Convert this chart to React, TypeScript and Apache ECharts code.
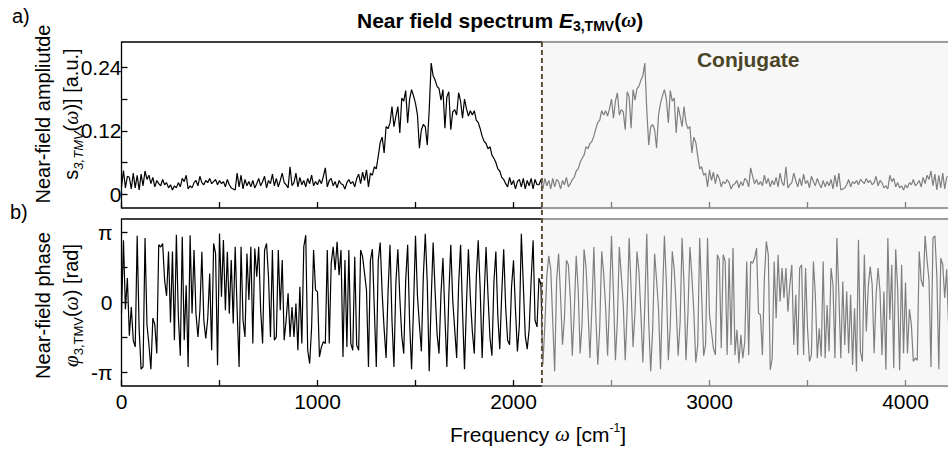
import React, { useEffect, useRef } from 'react';
import * as echarts from 'echarts';

// ---------- data ----------
const FREQ_STEP = 10; // cm^-1 between samples
const X_MAX = 4250;
const CONJ_START = 2145;
const X_TICKS = [0, 500, 1000, 1500, 2000, 2500, 3000, 3500, 4000];
const X_LABELS = [0, 1000, 2000, 3000, 4000];
const AMP_MIN = -0.026;
const AMP_MAX = 0.288;
const AMP_TICKS = [0, 0.06, 0.12, 0.18, 0.24];
const AMP_LABELS = [0, 0.12, 0.24];
const PI = Math.PI;
const PHASE_MIN = -3.76;
const PHASE_MAX = 3.76;
const PHASE_TICKS = [-PI, -PI / 2, 0, PI / 2, PI];
const PHASE_LABELS = [-PI, 0, PI];

// near-field amplitude, 0 .. 2120 cm^-1
const AMP_SPECTRUM = [
  0.014, 0.045, 0.012, 0.034, 0.032, 0.010, 0.040, 0.012, 0.036, 0.008,
  0.038, 0.016, 0.044, 0.028, 0.036, 0.020, 0.032, 0.014, 0.026, 0.020,
  0.016, 0.028, 0.018, 0.022, 0.012, 0.018, 0.008, 0.016, 0.012, 0.022,
  0.014, 0.030, 0.024, 0.036, 0.010, 0.016, 0.012, 0.022, 0.026, 0.016,
  0.034, 0.022, 0.018, 0.026, 0.022, 0.030, 0.020, 0.024, 0.028, 0.018,
  0.026, 0.020, 0.024, 0.014, 0.028, 0.018, 0.012, 0.010, 0.008, 0.040,
  0.014, 0.036, 0.010, 0.028, 0.016, 0.024, 0.014, 0.026, 0.012, 0.020,
  0.030, 0.016, 0.024, 0.034, 0.012, 0.026, 0.020, 0.038, 0.016, 0.030,
  0.014, 0.026, 0.040, 0.022, 0.018, 0.012, 0.052, 0.016, 0.022, 0.040,
  0.014, 0.032, 0.018, 0.026, 0.014, 0.030, 0.020, 0.036, 0.016, 0.024,
  0.018, 0.028, 0.020, 0.034, 0.050, 0.014, 0.026, 0.030, 0.016, 0.024,
  0.012, 0.026, 0.020, 0.018, 0.010, 0.022, 0.028, 0.020, 0.024, 0.014,
  0.030, 0.038, 0.020, 0.042, 0.026, 0.046, 0.014, 0.040, 0.036, 0.052,
  0.048, 0.072, 0.098, 0.108, 0.078, 0.128, 0.124, 0.135, 0.166, 0.128,
  0.148, 0.166, 0.116, 0.182, 0.176, 0.196, 0.135, 0.180, 0.198, 0.186,
  0.172, 0.150, 0.087, 0.122, 0.132, 0.128, 0.093, 0.160, 0.248, 0.224,
  0.216, 0.204, 0.200, 0.178, 0.198, 0.125, 0.184, 0.194, 0.122, 0.156,
  0.160, 0.150, 0.192, 0.176, 0.144, 0.180, 0.162, 0.148, 0.158, 0.150,
  0.158, 0.140, 0.136, 0.124, 0.110, 0.100, 0.096, 0.086, 0.090, 0.074,
  0.068, 0.060, 0.048, 0.044, 0.032, 0.028, 0.020, 0.014, 0.032, 0.018,
  0.026, 0.010, 0.024, 0.028, 0.014, 0.030, 0.010, 0.026, 0.016, 0.030,
  0.010, 0.028, 0.018,
];

// conjugate half, 2130 .. 4240 cm^-1
const AMP_CONJUGATE = [
  0.018, 0.028, 0.010, 0.030, 0.016, 0.026, 0.010, 0.030, 0.014, 0.028,
  0.024, 0.010, 0.026, 0.018, 0.032, 0.014, 0.020, 0.028, 0.032, 0.044,
  0.048, 0.060, 0.068, 0.074, 0.090, 0.086, 0.096, 0.100, 0.110, 0.124,
  0.136, 0.140, 0.158, 0.150, 0.158, 0.148, 0.162, 0.180, 0.144, 0.176,
  0.192, 0.150, 0.160, 0.156, 0.122, 0.194, 0.184, 0.125, 0.198, 0.178,
  0.200, 0.204, 0.216, 0.224, 0.248, 0.160, 0.093, 0.128, 0.132, 0.122,
  0.087, 0.150, 0.172, 0.186, 0.198, 0.180, 0.135, 0.196, 0.176, 0.182,
  0.116, 0.166, 0.148, 0.128, 0.166, 0.135, 0.124, 0.128, 0.078, 0.108,
  0.098, 0.072, 0.048, 0.052, 0.036, 0.040, 0.014, 0.046, 0.026, 0.042,
  0.020, 0.038, 0.030, 0.014, 0.024, 0.020, 0.028, 0.022, 0.010, 0.018,
  0.020, 0.026, 0.012, 0.024, 0.016, 0.030, 0.026, 0.014, 0.050, 0.034,
  0.020, 0.028, 0.018, 0.024, 0.016, 0.036, 0.020, 0.030, 0.014, 0.026,
  0.018, 0.032, 0.014, 0.040, 0.022, 0.016, 0.052, 0.012, 0.018, 0.022,
  0.040, 0.026, 0.014, 0.030, 0.016, 0.038, 0.020, 0.026, 0.012, 0.034,
  0.024, 0.016, 0.030, 0.020, 0.012, 0.026, 0.014, 0.024, 0.016, 0.028,
  0.010, 0.036, 0.014, 0.040, 0.008, 0.010, 0.012, 0.018, 0.028, 0.014,
  0.024, 0.020, 0.026, 0.018, 0.028, 0.024, 0.020, 0.030, 0.022, 0.026,
  0.018, 0.022, 0.034, 0.016, 0.026, 0.022, 0.012, 0.016, 0.010, 0.036,
  0.024, 0.030, 0.014, 0.022, 0.012, 0.016, 0.008, 0.018, 0.012, 0.022,
  0.018, 0.028, 0.016, 0.020, 0.026, 0.014, 0.032, 0.020, 0.036, 0.028,
  0.044, 0.016, 0.038, 0.008, 0.036, 0.012, 0.040, 0.010, 0.032, 0.034,
  0.012, 0.045,
];

// near-field phase (rad), 0 .. 2120 cm^-1
const PHASE_SPECTRUM = [
  -0.5, 2.8, -0.3, 1.1, -1.5, -0.2, -1.7, -2.0, 3.0, -1.2,
  -3.0, -2.9, 2.9, -1.0, -1.9, -3.0, -0.7, -1.0, -2.3, 2.6,
  2.5, 2.65, 1.0, 0.3, 2.3, -0.9, 2.3, -1.7, 3.05, -0.6,
  -2.4, 2.96, -1.70, 0.78, -2.90, 3.03, -0.50, 2.36, -0.50, -1.55,
  -0.35, 2.28, -0.80, -1.62, -0.72, 1.31, -2.15, 2.66, 2.21, -2.82,
  3.11, 0.26, 2.81, -0.35, 2.28, -0.50, 1.91, -0.95, 2.51, -0.35,
  -2.90, 2.51, -0.80, -1.55, 2.21, 0.11, 2.51, -1.85, 2.43, 1.16,
  2.51, -0.35, -1.85, 2.36, 2.66, 1.16, -1.55, 2.36, -1.70, -1.55,
  2.36, -0.35, 1.91, -1.70, -0.80, 0.41, -1.55, -0.20, -1.55, -0.05,
  -2.15, 0.71, -1.85, 2.51, 3.03, -2.15, -2.75, -1.10, 2.36, 0.56,
  0.48, -2.45, -2.00, -1.77, -1.85, 2.36, -1.85, 1.76, 2.51, 1.46,
  2.73, 1.23, 2.36, -2.45, 1.91, -2.00, 2.36, -1.85, -2.15, 2.06,
  -1.92, -2.15, 2.36, 2.06, 1.31, 0.56, -2.90, 1.91, 2.4, -0.3,
  -2.9, 1.9, 2.7, 0.4, -1.2, -2.5, 0.5, 2.6, -0.8, -2.9,
  0.9, 2.4, 0.2, -1.5, -2.3, 1.0, 2.6, -0.9, -3.0, -0.2,
  3.0, 0.3, -1.0, -2.2, 1.2, 3.1, 0.9, -3.1, 0.1, 2.7,
  0.5, -1.4, -2.3, 0.4, 2.0, -0.6, -2.9, 0.3, 2.6, 0.1,
  -1.2, -2.5, 0.8, 2.6, -0.4, -3.0, -0.1, 2.4, 0.2, -1.3,
  -2.3, 1.1, 2.8, 0.6, -2.5, 0.2, 2.5, 0.3, -1.6, -2.4,
  0.9, 2.3, -0.6, -2.1, 0.4, 2.4, -0.2, -1.7, -1.9, 0.7,
  1.9, -0.3, -2.2, -1.0, 3.1, 0.8, -1.5, -2.1, -1.2, 1.0,
  2.8, -0.8, -1.1,
];

// conjugate phase (rad), 2130 .. 4240 cm^-1
const PHASE_CONJUGATE = [
  1.1, 0.8, -2.8, -1.0, 1.2, 2.1, 1.5, -0.8, -3.1, 1.0,
  2.2, 0.3, -1.9, -0.7, 1.9, 1.7, 0.2, -2.4, -0.4, 2.1,
  0.6, -2.3, -0.9, 2.4, 1.6, -0.3, -2.5, -0.2, 2.5, -0.6,
  -2.8, -1.1, 2.3, 1.3, -0.2, -2.4, 0.1, 3.0, 0.4, -2.6,
  -0.8, 2.5, 1.2, -0.1, -2.6, -0.3, 2.9, 0.6, -2.0, -0.4,
  2.3, 1.4, -0.5, -2.7, -0.1, 3.1, -0.9, -3.1, -1.2, 2.2,
  1.0, -0.3, -3.0, 0.2, 3.0, 0.9, -2.6, -1.0, 2.3, 1.5,
  -0.2, -2.4, -0.9, 2.9, 0.8, -2.6, -0.5, 2.5, 1.2, -0.4,
  -2.7, -1.9, 2.9, 0.3, -2.4, -1.91, 2.90, -0.56, -1.31, -2.06,
  -2.36, 2.15, 1.92, -2.06, 2.15, 1.85, -2.36, 2.00, -1.91, 2.45,
  -2.36, -1.23, -2.73, -1.46, -2.51, -1.76, 1.85, -2.36, 1.85, 1.77,
  2.00, 2.45, -0.48, -0.56, -2.36, 1.10, 2.75, 2.15, -3.03, -2.51,
  1.85, -0.71, 2.15, 0.05, 1.55, 0.20, 1.55, -0.41, 0.80, 1.70,
  -1.91, 0.35, -2.36, 1.55, 1.70, -2.36, 1.55, -1.16, -2.66, -2.36,
  1.85, 0.35, -2.51, -1.16, -2.43, 1.85, -2.51, -0.11, -2.21, 1.55,
  0.80, -2.51, 2.90, 0.35, -2.51, 0.95, -1.91, 0.50, -2.28, 0.35,
  -2.81, -0.26, -3.11, 2.82, -2.21, -2.66, 2.15, -1.31, 0.72, 1.62,
  0.80, -2.28, 0.35, 1.55, 0.50, -2.36, 0.50, -3.03, 2.90, -0.78,
  1.70, -2.96, 2.4, 0.6, -3.05, 1.7, -2.3, 0.9, -2.3, -0.3,
  -1.0, -2.65, -2.5, -2.6, 2.3, 1.0, 0.7, 3.0, 1.9, 1.0,
  -2.9, 2.9, 3.0, 1.2, -3.0, 2.0, 1.7, 0.2, 1.5, -1.1,
  0.3, -2.8,
];

// ---------- styling ----------
const FONT = '"Liberation Sans", Arial, Helvetica, sans-serif';
const SERIF = '"Liberation Serif", "Times New Roman", serif';
const FS = 20; // axis names
const FS_TICK = 21; // tick labels
const FS_TITLE = 21;

const toPairs = (vals: number[]) => vals.map((v, i) => [i * FREQ_STEP, v]);

function buildOption() {
  const ampData = toPairs([...AMP_SPECTRUM, ...AMP_CONJUGATE]);
  const phaseData = toPairs([...PHASE_SPECTRUM, ...PHASE_CONJUGATE]);

  const tick = {
    show: true,
    inside: true,
    length: 6,
    lineStyle: { color: '#000', width: 1.3 },
  };
  const noLine = { show: false, onZero: false };
  const gridCommon = {
    left: 121.5,
    width: 833,
    show: true,
    borderColor: '#000',
    borderWidth: 1.3,
    backgroundColor: 'transparent',
    containLabel: false,
    outerBoundsMode: 'none',
  };
  const richMain = {
    t: { fontSize: FS, fontFamily: FONT, color: '#000', lineHeight: 28 },
    w: { fontSize: FS, fontFamily: SERIF, fontStyle: 'italic', color: '#000', lineHeight: 28 },
    p: { fontSize: 21, fontFamily: SERIF, fontStyle: 'italic', color: '#000', lineHeight: 28 },
    si: { fontSize: 13, fontFamily: FONT, fontStyle: 'italic', color: '#000', lineHeight: 12, verticalAlign: 'bottom' },
    sb: { fontSize: 13, fontFamily: FONT, color: '#000', lineHeight: 12, verticalAlign: 'bottom' },
  };
  const richX = {
    t: { fontSize: 21, fontFamily: FONT, color: '#000', lineHeight: 24 },
    w: { fontSize: 21, fontFamily: SERIF, fontStyle: 'italic', color: '#000', lineHeight: 24 },
    sup: { fontSize: 12, fontFamily: FONT, color: '#000', lineHeight: 15, verticalAlign: 'top' },
  };

  return {
    animation: false,
    backgroundColor: '#fff',
    textStyle: { fontFamily: FONT },
    title: {
      text: '{b|Near field spectrum }{e|E}{s|3,TMV}{b|(}{w|ω}{b|)}',
      left: 357,
      top: 7,
      padding: 0,
      textStyle: {
        rich: {
          b: { fontSize: FS_TITLE, fontWeight: 'bold', fontFamily: FONT, color: '#000', lineHeight: 26 },
          e: { fontSize: FS_TITLE, fontWeight: 'bold', fontStyle: 'italic', fontFamily: FONT, color: '#000', lineHeight: 26 },
          s: { fontSize: 14, fontWeight: 'bold', fontFamily: FONT, color: '#000', lineHeight: 12, verticalAlign: 'bottom' },
          w: { fontSize: FS_TITLE, fontWeight: 'bold', fontStyle: 'italic', fontFamily: SERIF, color: '#000', lineHeight: 26 },
        },
      },
    },
    grid: [
      { ...gridCommon, top: 42, height: 166 },
      { ...gridCommon, top: 219, height: 167 },
    ],
    xAxis: [
      {
        type: 'value', gridIndex: 0, min: 0, max: X_MAX,
        axisLine: noLine,
        axisTick: { ...tick, customValues: X_TICKS },
        axisLabel: { show: false },
        splitLine: { show: false },
      },
      {
        type: 'value', gridIndex: 1, min: 0, max: X_MAX,
        axisLine: noLine,
        axisTick: { ...tick, customValues: X_TICKS },
        axisLabel: {
          show: true, customValues: X_LABELS, margin: 5,
          fontSize: FS_TICK, fontFamily: FONT, color: '#000',
          formatter: (v: number) => String(v),
        },
        splitLine: { show: false },
        name: '{t|Frequency }{w|ω}{t| [cm}{sup|-1}{t|]}',
        nameLocation: 'middle',
        nameGap: 36,
        nameMoveOverlap: false,
        nameTextStyle: { rich: richX },
      },
    ],
    yAxis: [
      {
        type: 'value', gridIndex: 0, min: AMP_MIN, max: AMP_MAX,
        axisLine: noLine,
        axisTick: { ...tick, customValues: AMP_TICKS },
        axisLabel: {
          show: true, customValues: AMP_LABELS, margin: 0,
          fontSize: FS_TICK, fontFamily: FONT, color: '#000',
          formatter: (v: number) => (Math.abs(v) < 1e-9 ? '0' : v.toFixed(2)),
        },
        splitLine: { show: false },
        name: '{t|Near-field ampliutde}\n{t|s}{si|3,TMV}{t|(}{w|ω}{t|)] [a.u.]}',
        nameLocation: 'middle',
        nameRotate: 90,
        nameGap: 37,
        nameMoveOverlap: false,
        nameTextStyle: { rich: richMain, padding: [0, 0, 0, 22] },
      },
      {
        type: 'value', gridIndex: 1, min: PHASE_MIN, max: PHASE_MAX,
        axisLine: noLine,
        axisTick: { ...tick, customValues: PHASE_TICKS },
        axisLabel: {
          show: true, customValues: PHASE_LABELS, margin: 9,
          fontSize: FS_TICK, fontFamily: FONT, color: '#000',
          formatter: (v: number) => (v > 1 ? 'π' : v < -1 ? '-π' : '0'),
        },
        splitLine: { show: false },
        name: '{t|Near-field phase}\n{p|φ}{sb|3,TMV}{t|(}{w|ω}{t|) [rad]}',
        nameLocation: 'middle',
        nameRotate: 90,
        nameGap: 37,
        nameMoveOverlap: false,
        nameTextStyle: { rich: richMain, padding: [0, 6, 0, 0] },
      },
    ],
    series: [
      {
        type: 'line', xAxisIndex: 0, yAxisIndex: 0, data: ampData,
        showSymbol: false, symbol: 'none', silent: true,
        lineStyle: { color: '#000', width: 1.2 },
      },
      {
        type: 'line', xAxisIndex: 1, yAxisIndex: 1, data: phaseData,
        showSymbol: false, symbol: 'none', silent: true,
        lineStyle: { color: '#000', width: 1.2 },
      },
    ],
  };
}

export default function App() {
  const ref = useRef<HTMLDivElement>(null);
  useEffect(() => {
    const el = ref.current;
    if (!el) return;
    const chart = echarts.init(el, null, { renderer: 'svg' });
    chart.setOption(buildOption() as any);

    const a0 = chart.convertToPixel({ gridIndex: 0 } as any, [CONJ_START, AMP_MAX]) as number[];
    const a1 = chart.convertToPixel({ gridIndex: 0 } as any, [X_MAX, AMP_MIN]) as number[];
    const b0 = chart.convertToPixel({ gridIndex: 1 } as any, [CONJ_START, PHASE_MAX]) as number[];
    const b1 = chart.convertToPixel({ gridIndex: 1 } as any, [X_MAX, PHASE_MIN]) as number[];
    const W = chart.getWidth();
    const veil = 'rgba(240,240,240,0.53)';

    chart.setOption({
      graphic: {
        elements: [
          {
            type: 'rect', silent: true, z: 100,
            shape: { x: a0[0], y: a0[1] - 1.5, width: W - a0[0] + 10, height: a1[1] - a0[1] + 3 },
            style: { fill: veil },
          },
          {
            type: 'rect', silent: true, z: 100,
            shape: { x: b0[0], y: b0[1] - 1.5, width: W - b0[0] + 10, height: b1[1] - b0[1] + 3 },
            style: { fill: veil },
          },
          {
            type: 'line', silent: true, z: 110,
            shape: { x1: a0[0], y1: a0[1], x2: a0[0], y2: b1[1] },
            style: { stroke: '#5a5233', lineWidth: 2, lineDash: [5, 3] },
          },
          {
            type: 'text', silent: true, z: 120,
            x: (a0[0] + a1[0]) / 2, y: a0[1] + 17,
            style: {
              text: 'Conjugate', fontSize: 21, fontWeight: 'bold', fontFamily: FONT, fill: '#4b4528',
              textAlign: 'center', align: 'center', textVerticalAlign: 'middle', verticalAlign: 'middle',
            },
          },
          {
            type: 'text', silent: true, z: 120, x: 12, y: 16,
            style: { text: 'a)', fontSize: FS, fontFamily: FONT, fill: '#000', textVerticalAlign: 'middle', verticalAlign: 'middle' },
          },
          {
            type: 'text', silent: true, z: 120, x: 10, y: 212,
            style: { text: 'b)', fontSize: FS, fontFamily: FONT, fill: '#000', textVerticalAlign: 'middle', verticalAlign: 'middle' },
          },
        ],
      },
    } as any);

    return () => chart.dispose();
  }, []);
  return (
    <div
      ref={ref}
      style={{ position: 'fixed', left: 0, top: 0, width: 948, height: 452, background: '#fff' }}
    />
  );
}
